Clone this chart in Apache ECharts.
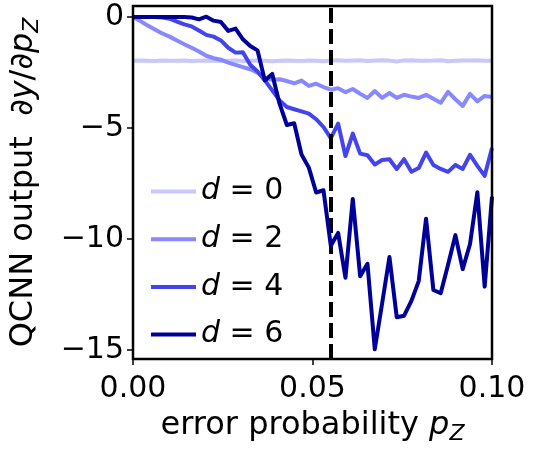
<!DOCTYPE html>
<html>
<head>
<meta charset="utf-8">
<script src="https://cdn.jsdelivr.net/npm/echarts@6/dist/echarts.min.js"></script>
<style>html,body{margin:0;padding:0;background:#fff}#c{width:540px;height:450px}</style>
</head>
<body>
<div id="c"></div>
<script>
const pZ = [0,0.00204,0.00408,0.00612,0.00816,0.0102,0.01224,0.01429,0.01633,0.01837,
0.02041,0.02245,0.02449,0.02653,0.02857,0.03061,0.03265,0.03469,0.03673,0.03878,
0.04082,0.04286,0.0449,0.04694,0.04898,0.05102,0.05306,0.0551,0.05714,0.05918,
0.06122,0.06327,0.06531,0.06735,0.06939,0.07143,0.07347,0.07551,0.07755,0.07959,
0.08163,0.08367,0.08571,0.08776,0.0898,0.09184,0.09388,0.09592,0.09796,0.1];

const d0 = [-1.97,-1.96,-1.97,-1.98,-1.96,-1.97,-1.97,-1.96,-1.98,-1.97,
-1.96,-1.97,-1.98,-1.97,-1.96,-1.98,-1.97,-1.95,-1.97,-1.99,
-1.97,-1.96,-1.97,-1.98,-1.95,-1.97,-1.99,-1.96,-1.94,-1.97,
-1.95,-1.94,-1.98,-1.96,-1.94,-1.96,-2.0,-1.95,-1.94,-1.97,
-1.97,-1.96,-1.94,-1.99,-1.97,-1.96,-1.96,-1.94,-1.97,-1.97];

const d2 = [0,-0.18,-0.38,-0.56,-0.74,-0.88,-1.05,-1.22,-1.38,-1.55,
-1.74,-1.85,-1.92,-2.05,-2.15,-2.25,-2.35,-2.5,-2.75,-2.82,
-2.8,-2.88,-2.98,-2.86,-3.1,-3.0,-3.15,-3.27,-3.2,-3.38,
-3.24,-3.45,-3.64,-3.33,-3.64,-3.42,-3.64,-3.5,-3.58,-3.64,
-3.5,-3.68,-3.86,-3.37,-3.7,-4.0,-3.46,-3.8,-3.55,-3.6];

const d4 = [0,0,0,0,-0.02,-0.07,-0.2,-0.33,-0.42,-0.6,
-0.8,-0.88,-1.05,-1.38,-1.6,-1.58,-2.15,-2.45,-2.85,-3.3,
-3.75,-4.05,-4.15,-4.25,-4.35,-4.6,-4.95,-5.45,-4.8,-6.26,
-5.25,-6.15,-6.22,-6.64,-6.44,-6.4,-6.84,-6.4,-6.97,-6.8,
-6.1,-6.66,-6.84,-6.97,-6.66,-6.84,-6.2,-6.7,-7.15,-5.9];

const d6 = [0,0,0,0,0,0,0,0,-0.02,-0.1,
0.02,-0.16,-0.22,-0.62,-0.52,-1.0,-1.3,-1.5,-2.85,-2.56,
-3.9,-4.86,-4.78,-6.19,-6.78,-7.9,-7.8,-10.3,-9.72,-11.74,
-8.19,-11.67,-11.11,-14.96,-12.9,-10.81,-13.52,-13.45,-12.78,-11.89,
-9.08,-12.29,-12.44,-11.15,-9.82,-11.35,-10.22,-7.89,-12.14,-8.09];

const seriesNames = ['d = 0','d = 2','d = 4','d = 6'];
const seriesColors = ['#c8c8ff','#8888ff','#4444ee','#000099'];
const xTicks = [0, 0.05, 0.1];
const yTicks = [0, -5, -10, -15];
const threshold = 0.055;

const allData = [d0, d2, d4, d6];
const FONT = 'DejaVu Sans';
const FS = 30;   // tick labels & legend
const NS = 32;   // axis names

const series = allData.map((vals, k) => ({
  name: seriesNames[k],
  type: 'line',
  data: pZ.map((x, i) => [x, vals[i]]),
  showSymbol: false,
  symbol: 'none',
  lineStyle: { color: seriesColors[k], width: 4, join: 'round' },
  itemStyle: { color: seriesColors[k] },
  z: 2 + k,
  animation: false
}));
series[0].markLine = {
  silent: true,
  precision: 5,
  symbol: ['none','none'],
  label: { show: false },
  emphasis: { disabled: true },
  lineStyle: { color: '#000', width: 4, type: [15, 6] },
  data: [{ xAxis: threshold }],
  animation: false
};

const richName = {
  n: { fontFamily: FONT, fontSize: NS, color: '#000', lineHeight: 38, verticalAlign: 'middle' },
  i: { fontFamily: FONT, fontSize: NS, fontStyle: 'italic', color: '#000', lineHeight: 38, verticalAlign: 'middle' },
  s: { fontFamily: FONT, fontSize: 22, fontStyle: 'italic', color: '#000', lineHeight: 38, verticalAlign: 'bottom' }
};

const chart = echarts.init(document.getElementById('c'), null, { renderer: 'canvas' });
chart.setOption({
  animation: false,
  backgroundColor: '#fff',
  grid: { left: 133, right: 48, top: 6, bottom: 86, show: true, borderColor: '#000', borderWidth: 2.5, backgroundColor: 'transparent', z: 20 },
  xAxis: {
    type: 'value', min: 0, max: 0.1,
    axisLine: { show: false, onZero: false },
    splitLine: { show: false },
    axisTick: { show: true, inside: false, length: 6, lineStyle: { color: '#000', width: 1.5 }, customValues: xTicks },
    axisLabel: { color: '#000', fontFamily: FONT, fontSize: FS, margin: 15, customValues: xTicks, formatter: v => v.toFixed(2) },
    name: '{n|error probability }{i|p}{s|Z}',
    nameLocation: 'middle', nameGap: 48,
    nameTextStyle: { color: '#000', fontFamily: FONT, fontSize: NS, rich: richName }
  },
  yAxis: {
    type: 'value', min: -15.4, max: 0.5,
    axisLine: { show: false, onZero: false },
    splitLine: { show: false },
    axisTick: { show: true, inside: false, length: 6, lineStyle: { color: '#000', width: 1.5 }, customValues: yTicks },
    axisLabel: { color: '#000', fontFamily: FONT, fontSize: FS, margin: 9, customValues: yTicks, formatter: v => (v < 0 ? '\u2212' + Math.abs(v) : String(v)) },
    name: '{n|QCNN output  \u2202}{i|y}{n|/\u2202}{i|p}{s|Z}',
    nameLocation: 'middle', nameGap: 90, nameRotate: 90,
    nameTextStyle: { color: '#000', fontFamily: FONT, fontSize: NS, rich: richName }
  },
  legend: {
    show: true, orient: 'vertical', left: 146, top: 171,
    icon: 'rect', itemWidth: 45, itemHeight: 4, itemGap: 16.7,
    data: seriesNames,
    formatter: name => '{i|d}{n|' + name.slice(1) + '}',
    textStyle: { color: '#000', fontFamily: FONT, fontSize: FS, lineHeight: 31,
      rich: {
        i: { fontFamily: FONT, fontSize: FS, fontStyle: 'italic', color: '#000', lineHeight: 31 },
        n: { fontFamily: FONT, fontSize: FS, color: '#000', lineHeight: 31 }
      } }
  },
  series: series
});
</script>
</body>
</html>
